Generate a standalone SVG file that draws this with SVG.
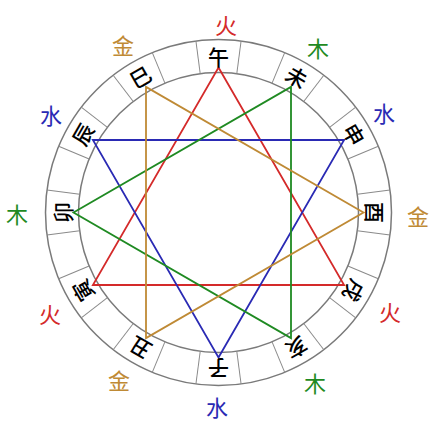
<svg xmlns="http://www.w3.org/2000/svg" width="438" height="424" viewBox="0 0 438 424">
<style>
.ring{fill:none;stroke:#7a7a7a;stroke-width:1.5}
.div{stroke:#8a8a8a;stroke-width:1}
.br{font-family:"Noto Sans CJK SC","Noto Sans CJK JP",sans-serif;font-size:21px;font-weight:500;fill:#000;text-anchor:middle;dominant-baseline:central}
.el{font-family:"Noto Sans CJK SC","Noto Sans CJK JP",sans-serif;font-size:22px;text-anchor:middle;dominant-baseline:central}
.fire{fill:#d42a2a}.wood{fill:#1f8a22}.water{fill:#2a2ab4}.metal{fill:#bf8a35}
.tri{fill:none;stroke-width:1.8;stroke-linejoin:miter}
</style>
<rect width="438" height="424" fill="#fff"/>
<g id="wheel">
<circle class="ring" cx="218.5" cy="212.5" r="173"/>
<circle class="ring" cx="218.5" cy="212.5" r="140"/>
<g transform="translate(218.5 212.5)">
<line class="div" x1="140" y1="0" x2="173" y2="0" transform="rotate(7.5)"/>
<line class="div" x1="140" y1="0" x2="173" y2="0" transform="rotate(22.5)"/>
<line class="div" x1="140" y1="0" x2="173" y2="0" transform="rotate(37.5)"/>
<line class="div" x1="140" y1="0" x2="173" y2="0" transform="rotate(52.5)"/>
<line class="div" x1="140" y1="0" x2="173" y2="0" transform="rotate(67.5)"/>
<line class="div" x1="140" y1="0" x2="173" y2="0" transform="rotate(82.5)"/>
<line class="div" x1="140" y1="0" x2="173" y2="0" transform="rotate(97.5)"/>
<line class="div" x1="140" y1="0" x2="173" y2="0" transform="rotate(112.5)"/>
<line class="div" x1="140" y1="0" x2="173" y2="0" transform="rotate(127.5)"/>
<line class="div" x1="140" y1="0" x2="173" y2="0" transform="rotate(142.5)"/>
<line class="div" x1="140" y1="0" x2="173" y2="0" transform="rotate(157.5)"/>
<line class="div" x1="140" y1="0" x2="173" y2="0" transform="rotate(172.5)"/>
<line class="div" x1="140" y1="0" x2="173" y2="0" transform="rotate(187.5)"/>
<line class="div" x1="140" y1="0" x2="173" y2="0" transform="rotate(202.5)"/>
<line class="div" x1="140" y1="0" x2="173" y2="0" transform="rotate(217.5)"/>
<line class="div" x1="140" y1="0" x2="173" y2="0" transform="rotate(232.5)"/>
<line class="div" x1="140" y1="0" x2="173" y2="0" transform="rotate(247.5)"/>
<line class="div" x1="140" y1="0" x2="173" y2="0" transform="rotate(262.5)"/>
<line class="div" x1="140" y1="0" x2="173" y2="0" transform="rotate(277.5)"/>
<line class="div" x1="140" y1="0" x2="173" y2="0" transform="rotate(292.5)"/>
<line class="div" x1="140" y1="0" x2="173" y2="0" transform="rotate(307.5)"/>
<line class="div" x1="140" y1="0" x2="173" y2="0" transform="rotate(322.5)"/>
<line class="div" x1="140" y1="0" x2="173" y2="0" transform="rotate(337.5)"/>
<line class="div" x1="140" y1="0" x2="173" y2="0" transform="rotate(352.5)"/>
</g>
</g>
<g id="connectors">
<polygon class="tri" stroke="#d42a2a" points="218.5,67.5 344.1,285 92.9,285"/>
<polygon class="tri" stroke="#2a2ab4" points="218.5,357.5 344.1,140 92.9,140"/>
<polygon class="tri" stroke="#1f8a22" points="73.5,212.5 291,86.9 291,338.1"/>
<polygon class="tri" stroke="#bf8a35" points="363.5,212.5 146,86.9 146,338.1"/>
</g>
<g id="branches" transform="translate(218.5 212.5)">
<g id="wu" transform="rotate(-90) translate(157 0) rotate(90)"><text class="br">午</text></g>
<g id="wei" transform="rotate(-60) translate(157 0) rotate(90)"><text class="br">未</text></g>
<g id="shen" transform="rotate(-30) translate(157 0) rotate(90)"><text class="br">申</text></g>
<g id="you" transform="rotate(0) translate(157 0) rotate(90)"><text class="br">酉</text></g>
<g id="xu" transform="rotate(30) translate(157 0) rotate(90)"><text class="br">戌</text></g>
<g id="hai" transform="rotate(60) translate(157 0) rotate(90)"><text class="br">亥</text></g>
<g id="zi" transform="rotate(90) translate(157 0) rotate(90)"><text class="br">子</text></g>
<g id="chou" transform="rotate(120) translate(157 0) rotate(90)"><text class="br">丑</text></g>
<g id="yin" transform="rotate(150) translate(157 0) rotate(90)"><text class="br">寅</text></g>
<g id="mao" transform="rotate(180) translate(157 0) rotate(90)"><text class="br">卯</text></g>
<g id="chen" transform="rotate(210) translate(157 0) rotate(90)"><text class="br">辰</text></g>
<g id="si" transform="rotate(240) translate(157 0) rotate(90)"><text class="br">巳</text></g>
</g>
<g id="elements">
<text class="el fire" x="226" y="24">火</text>
<text class="el metal" x="123" y="44">金</text>
<text class="el wood" x="318" y="47">木</text>
<text class="el water" x="51" y="114">水</text>
<text class="el water" x="384" y="112">水</text>
<text class="el wood" x="17" y="213">木</text>
<text class="el metal" x="418" y="215">金</text>
<text class="el fire" x="50" y="313">火</text>
<text class="el fire" x="390" y="311">火</text>
<text class="el metal" x="119" y="379">金</text>
<text class="el wood" x="315" y="382">木</text>
<text class="el water" x="217" y="406">水</text>
</g>
</svg>
